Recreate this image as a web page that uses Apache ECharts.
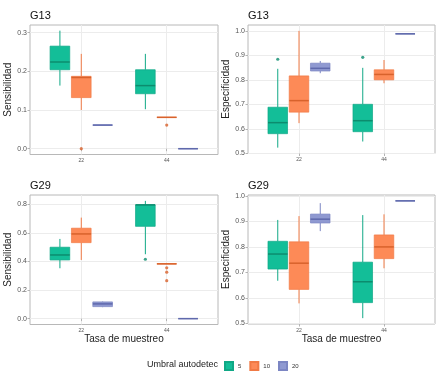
<!DOCTYPE html>
<html><head><meta charset="utf-8">
<script src="https://cdn.jsdelivr.net/npm/echarts@6/dist/echarts.min.js"></script>
<style>html,body{margin:0;padding:0;background:#fff}#c{width:437px;height:384px}</style>
</head><body><div id="c"></div>
<script>
// ---- data ----
const panelTitles = ['G13', 'G13', 'G29', 'G29'];
const yNames = ['Sensibilidad', 'Especificidad', 'Sensibilidad', 'Especificidad'];
const xCategories = ['22', '44'];
const groups = ['5', '10', '20'];
const legendTitle = 'Umbral autodetec';
const xTitle = 'Tasa de muestreo';

// boxplot stats per category: [min, Q1, median, Q3, max]
const tl5  = [[0.163, 0.204, 0.224, 0.265, 0.305], [0.102, 0.142, 0.163, 0.204, 0.245]];
const tl10 = [[0.100, 0.132, 0.184, 0.187, 0.245], [0.081, 0.081, 0.081, 0.081, 0.081]];
const tl20 = [[0.061, 0.061, 0.061, 0.061, 0.061], [0.000, 0.000, 0.000, 0.000, 0.000]];
const tlOut5  = [[], []];
const tlOut10 = [[0.000], [0.061]];
const tlOut20 = [[], []];

const tr5  = [[0.523, 0.580, 0.625, 0.688, 0.845], [0.548, 0.588, 0.633, 0.700, 0.849]];
const tr10 = [[0.623, 0.668, 0.715, 0.816, 1.000], [0.786, 0.800, 0.822, 0.841, 0.881]];
const tr20 = [[0.827, 0.836, 0.847, 0.868, 0.877], [0.988, 0.988, 0.988, 0.988, 0.988]];
const trOut5  = [[0.884], [0.892]];
const trOut10 = [[], []];
const trOut20 = [[], []];

const bl5  = [[0.352, 0.410, 0.445, 0.499, 0.557], [0.450, 0.645, 0.795, 0.795, 0.823]];
const bl10 = [[0.410, 0.531, 0.592, 0.632, 0.706], [0.383, 0.383, 0.383, 0.383, 0.383]];
const bl20 = [[0.080, 0.084, 0.103, 0.117, 0.120], [0.000, 0.000, 0.000, 0.000, 0.000]];
const blOut5  = [[], [0.415]];
const blOut10 = [[], [0.355, 0.325, 0.265]];
const blOut20 = [[], []];

const br5  = [[0.667, 0.713, 0.772, 0.822, 0.906], [0.520, 0.581, 0.663, 0.740, 0.925]];
const br10 = [[0.578, 0.633, 0.736, 0.820, 0.921], [0.716, 0.754, 0.800, 0.847, 0.928]];
const br20 = [[0.862, 0.894, 0.909, 0.929, 0.972], [0.981, 0.981, 0.981, 0.981, 0.981]];
const brOut5  = [[], []];
const brOut10 = [[], []];
const brOut20 = [[], []];

const yTicks = [[0, 0.1, 0.2, 0.3], [0.5, 0.6, 0.7, 0.8, 0.9, 1.0], [0, 0.2, 0.4, 0.6, 0.8], [0.5, 0.6, 0.7, 0.8, 0.9, 1.0]];

// ---- layout / style ----
const panels = [
  {boxes: [tl5, tl10, tl20], outs: [tlOut5, tlOut10, tlOut20]},
  {boxes: [tr5, tr10, tr20], outs: [trOut5, trOut10, trOut20]},
  {boxes: [bl5, bl10, bl20], outs: [blOut5, blOut10, blOut20]},
  {boxes: [br5, br10, br20], outs: [brOut5, brOut10, brOut20]}
];
const yRange = [[-0.015, 0.3196], [0.499, 1.024], [-0.041, 0.864], [0.497, 1.004]];
const grids = [
  {left: 30, top: 25, width: 188, height: 129.5},
  {left: 248, top: 25, width: 187, height: 128.5},
  {left: 30, top: 195, width: 188, height: 129.5},
  {left: 248, top: 195, width: 187, height: 129}
];
const colors = [
  {fill: '#13BE98', line: '#10A886', med: '#0C8C6E'},
  {fill: '#FD8A57', line: '#F07A45', med: '#D8622C'},
  {fill: '#8F99D1', line: '#7C86C3', med: '#5F69AC'}
];
const dodge = [-0.25, 0, 0.25];
const boxW = 0.23;

function renderBox(col) {
  return function (params, api) {
    const x = api.value(0);
    const lo = api.coord([x, api.value(1)]);
    const q1 = api.coord([x, api.value(2)]);
    const md = api.coord([x, api.value(3)]);
    const q3 = api.coord([x, api.value(4)]);
    const hi = api.coord([x, api.value(5)]);
    const w = api.size([boxW, 0])[0];
    const cx = md[0];
    return {
      type: 'group',
      children: [
        {type: 'line', shape: {x1: cx, y1: hi[1], x2: cx, y2: q3[1]}, style: {stroke: col.line, lineWidth: 1}},
        {type: 'line', shape: {x1: cx, y1: q1[1], x2: cx, y2: lo[1]}, style: {stroke: col.line, lineWidth: 1}},
        {type: 'rect', shape: {x: cx - w / 2, y: q3[1], width: w, height: q1[1] - q3[1]},
          style: {fill: col.fill, stroke: col.line, lineWidth: 0.7}},
        {type: 'line', shape: {x1: cx - w / 2, y1: md[1], x2: cx + w / 2, y2: md[1]},
          style: {stroke: col.med, lineWidth: 1.5}}
      ]
    };
  };
}

const titles = panelTitles.map((t, i) => ({
  text: t, left: grids[i].left, top: grids[i].top - 15, padding: 0,
  textStyle: {fontSize: 11, fontWeight: 'normal', color: '#111', fontFamily: 'Liberation Sans'}
}));
titles.push({
  text: legendTitle, left: 147, top: 360, padding: 0,
  textStyle: {fontSize: 9, fontWeight: 'normal', color: '#222', fontFamily: 'Liberation Sans'}
});

const xAxes = grids.map((g, i) => ({
  type: 'value', gridIndex: i, min: 0.4, max: 2.6,
  axisLine: {show: false},
  axisTick: {show: true, customValues: [1, 2], length: 2.5, lineStyle: {color: '#b3b3b3'}},
  axisLabel: {customValues: [1, 2], formatter: v => xCategories[Math.round(v) - 1], fontSize: 5, color: '#555', margin: 4, fontFamily: 'Liberation Sans'},
  splitLine: {show: true, lineStyle: {color: '#ececec', width: 1}},
  name: i >= 2 ? xTitle : '', nameLocation: 'middle', nameGap: 9,
  nameTextStyle: {fontSize: 10, color: '#222', fontFamily: 'Liberation Sans'}
}));
const yAxes = grids.map((g, i) => ({
  type: 'value', gridIndex: i, min: yRange[i][0], max: yRange[i][1],
  axisLine: {show: false},
  axisTick: {show: true, customValues: yTicks[i], length: 2.5, lineStyle: {color: '#b3b3b3'}},
  axisLabel: {customValues: yTicks[i], formatter: v => v.toFixed(1), fontSize: 7, color: '#555', margin: 3, fontFamily: 'Liberation Sans'},
  splitLine: {show: true, lineStyle: {color: '#ececec', width: 1}},
  name: yNames[i], nameLocation: 'middle', nameGap: 13,
  nameTextStyle: {fontSize: 10, color: '#222', fontFamily: 'Liberation Sans'}
}));

const series = [];
panels.forEach((p, pi) => {
  groups.forEach((gname, gi) => {
    const col = colors[gi];
    const boxData = p.boxes[gi].map((s, ci) => [ci + 1 + dodge[gi]].concat(s));
    series.push({
      type: 'custom', name: gname, xAxisIndex: pi, yAxisIndex: pi,
      renderItem: renderBox(col), data: boxData,
      encode: {x: 0, y: [1, 2, 3, 4, 5]},
      itemStyle: {color: col.fill, borderColor: col.line, borderWidth: 0.7},
      silent: true, z: 3
    });
    const outData = [];
    p.outs[gi].forEach((vals, ci) => vals.forEach(v => outData.push([ci + 1 + dodge[gi], v])));
    if (outData.length) {
      series.push({
        type: 'scatter', name: gname, xAxisIndex: pi, yAxisIndex: pi,
        data: outData, symbolSize: 3.2,
        itemStyle: {color: col.med}, silent: true, z: 4
      });
    }
  });
});

const chart = echarts.init(document.getElementById('c'), null, {renderer: 'canvas'});
chart.setOption({
  animation: false,
  backgroundColor: '#fff',
  title: titles,
  grid: grids.map(g => Object.assign({show: true, borderColor: '#b8b8b8', borderWidth: 1, backgroundColor: '#fff'}, g)),
  xAxis: xAxes,
  yAxis: yAxes,
  legend: {
    data: groups, left: 224, top: 361, padding: 0, itemWidth: 8, itemHeight: 8, itemGap: 8,
    icon: 'rect', selectedMode: false,
    textStyle: {fontSize: 6, color: '#333', fontFamily: 'Liberation Sans'}
  },
  series: series
});
</script></body></html>
